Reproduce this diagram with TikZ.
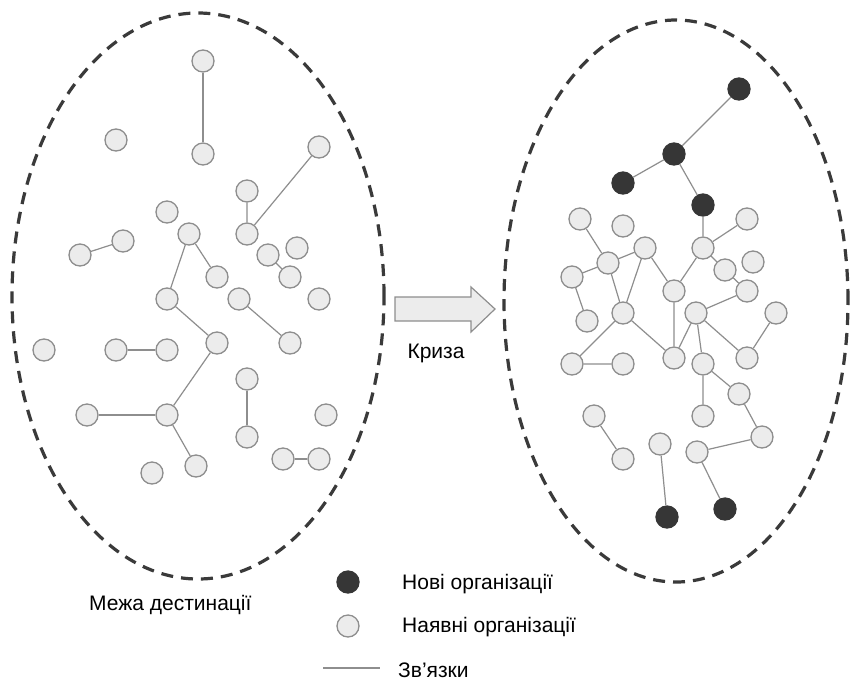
\documentclass[tikz,border=0pt]{standalone}
\usepackage{fontspec}
\setmainfont{Liberation Sans}
\usepackage{tikz}
\usetikzlibrary{positioning}
\definecolor{orgfill}{HTML}{ECECEC}
\definecolor{orgdraw}{HTML}{8E8E8E}
\definecolor{newfill}{HTML}{363636}
\definecolor{bound}{HTML}{3A3A3A}
\tikzset{org/.style = {circle,draw=orgdraw,fill=orgfill,line width=1.3pt,minimum size=22pt,inner sep=0pt}}
\tikzset{neworg/.style = {circle,draw=newfill,fill=newfill,line width=1.3pt,minimum size=22pt,inner sep=0pt}}
\tikzset{link/.style = {draw=orgdraw,line width=1.2pt}}
\tikzset{boundary/.style = {draw=bound,line width=3.2pt,dash pattern=on 12pt off 8pt}}
\tikzset{label/.style = {anchor=west,inner sep=0pt,font=\fontsize{21}{24}\selectfont}}

\begin{document}
\begin{tikzpicture}[x=1pt,y=-1pt]
        \useasboundingbox (0,0) rectangle (859,681);
        \fill[white] (0,0) rectangle (859,681);

        % before
        \begin{scope}
            \draw [boundary] (198,296) ellipse [x radius=186pt, y radius=283pt];

            \node [org] (a1)  at (203, 61) {};
            \node [org] (a2)  at (203,154) {};
            \node [org] (a3)  at (116,140) {};
            \node [org] (a4)  at (319,147) {};
            \node [org] (a5)  at (247,191) {};
            \node [org] (a6)  at (247,234) {};
            \node [org] (a7)  at (167,212) {};
            \node [org] (a8)  at (189,234) {};
            \node [org] (a9)  at (123,241) {};
            \node [org] (a10) at ( 80,255) {};
            \node [org] (a11) at (268,255) {};
            \node [org] (a12) at (297,248) {};
            \node [org] (a13) at (290,277) {};
            \node [org] (a14) at (217,277) {};
            \node [org] (a15) at (167,299) {};
            \node [org] (a16) at (239,299) {};
            \node [org] (a17) at (319,299) {};
            \node [org] (a18) at (217,343) {};
            \node [org] (a19) at (290,343) {};
            \node [org] (a20) at ( 44,350) {};
            \node [org] (a21) at (116,350) {};
            \node [org] (a22) at (167,350) {};
            \node [org] (a23) at (247,379) {};
            \node [org] (a24) at ( 87,415) {};
            \node [org] (a25) at (167,415) {};
            \node [org] (a26) at (326,415) {};
            \node [org] (a27) at (247,437) {};
            \node [org] (a28) at (283,459) {};
            \node [org] (a29) at (319,459) {};
            \node [org] (a30) at (196,466) {};
            \node [org] (a31) at (152,473) {};

            \draw [link] (a1) -- (a2);
            \draw [link] (a4) -- (a6) -- (a5);
            \draw [link] (a10) -- (a9);
            \draw [link] (a14) -- (a8) -- (a15) -- (a18) -- (a25) -- (a30);
            \draw [link] (a24) -- (a25);
            \draw [link] (a11) -- (a13);
            \draw [link] (a16) -- (a19);
            \draw [link] (a21) -- (a22);
            \draw [link] (a23) -- (a27);
            \draw [link] (a28) -- (a29);
        \end{scope}

        % crisis arrow
        \draw [draw=orgdraw,fill=orgfill,line width=1.2pt] (395,297) -- (471,297) -- (471,287) -- (495,309) -- (471,332) -- (471,321) -- (395,321) -- cycle;
        \node [label,anchor=center] (crisis) at (436,353) {Криза};

        % after
        \begin{scope}
            \draw [boundary] (676,301) ellipse [x radius=172pt, y radius=281pt];

            \node [neworg] (n1) at (739, 89) {};
            \node [neworg] (n2) at (674,154) {};
            \node [neworg] (n3) at (623,183) {};
            \node [neworg] (n4) at (703,205) {};
            \node [neworg] (n5) at (667,517) {};
            \node [neworg] (n6) at (725,509) {};

            \node [org] (b5)  at (580,219) {};
            \node [org] (b6)  at (623,226) {};
            \node [org] (b7)  at (747,219) {};
            \node [org] (b8)  at (645,248) {};
            \node [org] (b9)  at (703,248) {};
            \node [org] (b10) at (608,263) {};
            \node [org] (b11) at (753,262) {};
            \node [org] (b12) at (725,270) {};
            \node [org] (b13) at (572,277) {};
            \node [org] (b14) at (674,291) {};
            \node [org] (b15) at (747,291) {};
            \node [org] (b19) at (587,321) {};
            \node [org] (b20) at (623,313) {};
            \node [org] (b21) at (696,313) {};
            \node [org] (b22) at (776,313) {};
            \node [org] (b23) at (572,364) {};
            \node [org] (b24) at (623,364) {};
            \node [org] (b25) at (674,358) {};
            \node [org] (b26) at (703,364) {};
            \node [org] (b27) at (747,358) {};
            \node [org] (b28) at (739,394) {};
            \node [org] (b29) at (703,416) {};
            \node [org] (b30) at (594,416) {};
            \node [org] (b31) at (762,437) {};
            \node [org] (b32) at (660,444) {};
            \node [org] (b33) at (697,452) {};
            \node [org] (b34) at (623,459) {};

            \draw [link] (n3) -- (n2) -- (n1);
            \draw [link] (n2) -- (n4) -- (b9) -- (b7);
            \draw [link] (b5) -- (b10) -- (b8) -- (b20) -- (b10) -- (b13) -- (b19);
            \draw [link] (b8) -- (b14) -- (b9) -- (b12) -- (b15) -- (b21);
            \draw [link] (b14) -- (b25) -- (b20) -- (b23) -- (b24);
            \draw [link] (b25) -- (b21) -- (b26) -- (b29);
            \draw [link] (b21) -- (b27) -- (b22);
            \draw [link] (b26) -- (b28) -- (b31) -- (b33) -- (n6);
            \draw [link] (b30) -- (b34);
            \draw [link] (b32) -- (n5);
        \end{scope}

        % legend
        \node [label] (bnd) at (89,605) {Межа дестинації};
        \node [neworg] (keynew) at (348,582) {};
        \node [org] (keyold) at (348,626) {};
        \coordinate (keyl) at (323,668);
        \coordinate (keyr) at (380,668);
        \draw [link] (keyl) -- (keyr);
        \node [label] (txtnew) at (402,584) {Нові організації};
        \node [label] (txtold) at (402,627) {Наявні організації};
        \node [label] (txtlink) at (398,670) {Зв’язки};
    \end{tikzpicture}
\end{document}
